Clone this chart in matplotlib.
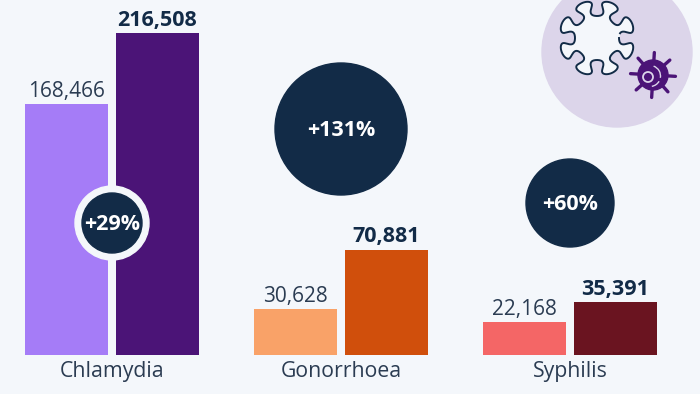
import numpy as np
from matplotlib import pyplot as plt
from matplotlib.patches import Circle, Arc

plt.rcParams['font.family'] = ['Open Sans', 'DejaVu Sans']

categories = ["Chlamydia", "Gonorrhoea", "Syphilis"]
before = [168466, 30628, 22168]
after = [216508, 70881, 35391]
change = ["+29%", "+131%", "+60%"]

before_colors = ["#a57cf7", "#f9a268", "#f46666"]
after_colors = ["#4b1477", "#d04f0c", "#6a1420"]
bg = "#f4f7fb"
navy = "#122b47"
purple = "#4b1477"
pale = "#dcd5ea"
grey_text = "#2b3c52"

W, H = 700, 394
fig = plt.figure(figsize=(7, 3.94), dpi=100, facecolor=bg)

# bars sit between y=33 and y=355 px in the picture
ax = fig.add_axes([0, (H - 355) / H, 1, 322 / H])
ax.set_facecolor("none")
ax.set_xlim(-112 / 229, (W - 112) / 229)
ax.set_ylim(0, max(after))
ax.axis("off")

x = np.arange(len(categories))
ax.bar(x - 0.1987, before, 0.36, color=before_colors)
ax.bar(x + 0.1987, after, 0.36, color=after_colors)

for i in x:
    ax.annotate(f"{before[i]:,}", (i - 0.1987, before[i]), xytext=(0, 1.5), textcoords="offset points",
                ha="center", va="bottom", fontsize=15, color=grey_text, annotation_clip=False)
    ax.annotate(f"{after[i]:,}", (i + 0.1987, after[i]), xytext=(0, 1.5), textcoords="offset points",
                ha="center", va="bottom", fontsize=15.5, fontweight="bold", color=navy, annotation_clip=False)
    ax.annotate(categories[i], (i, 0), xytext=(0, -4), textcoords="offset points",
                ha="center", va="top", fontsize=15.3, color=grey_text, annotation_clip=False)

# overlay in pixel coordinates for the bubbles and the icon
top = fig.add_axes([0, 0, 1, 1])
top.set_xlim(0, W)
top.set_ylim(H, 0)
top.axis("off")
top.patch.set_alpha(0)

top.add_patch(Circle((112, 223), 37, color=bg, zorder=2))
for (cx, cy, r), label in zip([(112, 223, 30), (341, 129, 66), (570, 203, 44)], change):
    top.add_patch(Circle((cx, cy), r, color=navy, zorder=3))
    top.text(cx, cy + 1, label, color="white", fontweight="bold", fontsize=15.5,
             ha="center", va="center", zorder=4)

# icon: pale disc, virus outline, small dark germ
top.add_patch(Circle((617, 52), 75, color=pale, zorder=1))

s = np.linspace(-np.pi, np.pi, 120)
t = np.concatenate([(k + 0.5) * np.pi / 4 + s / 8 + 0.13 * np.sin(2 * s) for k in range(8)])
r = np.tile(30 + 8 * np.cos(s), 8)
vx = 597 + r * np.cos(t)
vy = 38 + r * np.sin(t)
top.fill(vx, vy, color=bg, zorder=2)
gap = 12
top.plot(vx[:-gap], vy[:-gap], color=navy, lw=1.4, zorder=3)

gx, gy = 653, 75
top.add_patch(Circle((gx, gy), 15, color=purple, zorder=3))
for a in np.arange(0, 2 * np.pi, np.pi / 4) + 0.06:
    top.plot([gx + 12 * np.cos(a), gx + 22.5 * np.cos(a)],
             [gy + 12 * np.sin(a), gy + 22.5 * np.sin(a)],
             color=purple, lw=2.4, solid_capstyle="round", zorder=3)
top.add_patch(Circle((gx - 5, gy + 2), 5, fill=False, ec=pale, lw=1.3, zorder=4))
top.add_patch(Arc((gx - 3, gy + 1), 21, 21, theta1=-70, theta2=10, ec=pale, lw=1, zorder=4))
top.add_patch(Arc((gx - 3, gy + 1), 21, 21, theta1=30, theta2=80, ec=pale, lw=1, zorder=4))

fig.savefig("out.png", dpi=100, facecolor=bg)
